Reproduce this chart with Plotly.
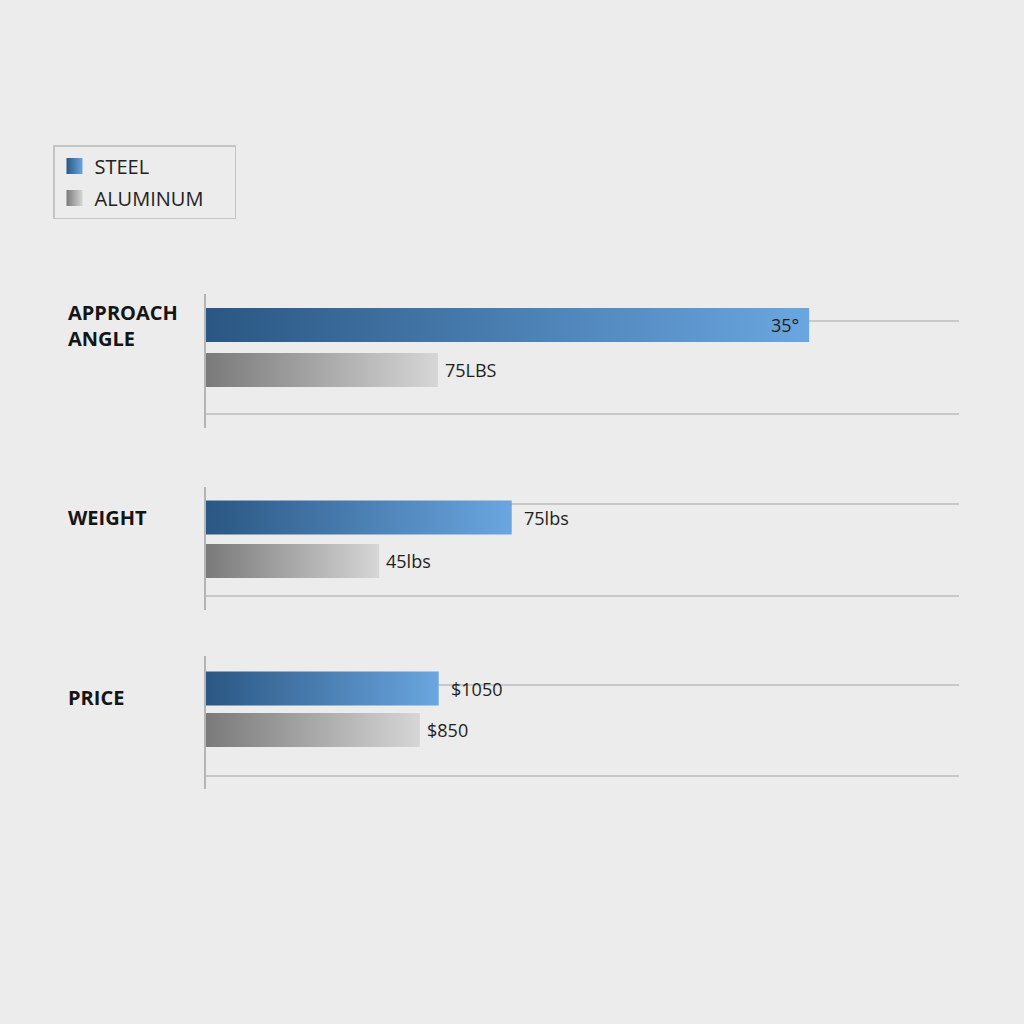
import plotly.graph_objects as go

# data (bar lengths on a common 0-100 scale)
groups = ["APPROACH<br>ANGLE", "WEIGHT", "PRICE"]
series = ["STEEL", "ALUMINUM"]
steel_len = [80.1, 40.6, 30.9]
alum_len = [30.8, 23.0, 28.4]
steel_labels = ["35°", "75lbs", "$1050"]
alum_labels = ["75LBS", "45lbs", "$850"]

W = H = 1024
FONT = "Open Sans"
BG = "#ececec"
GRID = "#c8c8c8"
AXIS = "#b4b4b4"

# colours: dark -> light for each series
ramps = {
    "STEEL": ("#2a5783", "#6aa6e0"),
    "ALUMINUM": ("#7a7a7a", "#d6d6d6"),
}

# pixel layout of each group block: top, bottom, steel centre, px per unit, grid lines
blocks = [
    dict(top=294, bottom=428, s=325, k=45, lines=(321, 414), label_shift=0),
    dict(top=487, bottom=610, s=517.5, k=43.5, lines=(504, 596), label_shift=0),
    dict(top=656, bottom=789, s=688.5, k=41.5, lines=(685, 776), label_shift=-9),
]
x0_px, x1_px = 206, 959


def px_to_y(p, b):
    return 1 - (p - b["s"]) / b["k"]


fig = go.Figure()
annotations = []
layout_axes = {}

for i, (grp, b) in enumerate(zip(groups, blocks)):
    sfx = "" if i == 0 else str(i + 1)
    xa, ya = "x" + sfx, "y" + sfx
    half = 17 / b["k"]
    for pos, name, vals, labels in [(1, "STEEL", steel_len, steel_labels),
                                    (0, "ALUMINUM", alum_len, alum_labels)]:
        v = vals[i]
        dark, light = ramps[name]
        fig.add_trace(go.Scatter(
            x=[0, v, v, 0, 0],
            y=[pos - half, pos - half, pos + half, pos + half, pos - half],
            mode="lines", fill="toself", line=dict(width=0),
            fillgradient=dict(type="horizontal",
                              colorscale=[[0, dark], [1, light]]),
            hoverinfo="skip", showlegend=False,
            xaxis=xa, yaxis=ya,
        ))
        inside = v > 70
        if inside:
            shift = -8
        else:
            shift = 10 if name == "STEEL" else 5
        annotations.append(dict(
            x=v, y=pos, xref=xa, yref=ya, text=labels[i], showarrow=False,
            xanchor="right" if inside else "left", xshift=shift,
            font=dict(family=FONT, size=18, color="#1e1e1e"),
        ))
    annotations.append(dict(
        x=66 / W, y=1, xref="paper", yref=ya, text=grp, showarrow=False,
        xanchor="left", align="left", yshift=b["label_shift"],
        font=dict(family=FONT, size=20, color="#151515", weight="bold"),
    ))

    layout_axes["xaxis" + sfx] = dict(
        domain=[x0_px / W, x1_px / W], range=[0, 100], visible=False,
        anchor=ya, fixedrange=True,
    )
    layout_axes["yaxis" + sfx] = dict(
        domain=[1 - b["bottom"] / H, 1 - b["top"] / H],
        range=[px_to_y(b["bottom"], b), px_to_y(b["top"], b)],
        anchor=xa, showline=True, linecolor=AXIS, linewidth=1.5,
        tickvals=[px_to_y(p, b) for p in b["lines"]],
        showticklabels=False, ticks="", showgrid=True,
        gridcolor=GRID, gridwidth=1.5, zeroline=False, fixedrange=True,
    )

# legend-only entries (trailing no-break spaces widen the legend box)
for name in series:
    dark, light = ramps[name]
    pad = "\u00a0" * (5 if name == "ALUMINUM" else 0)
    fig.add_trace(go.Scatter(
        x=[None], y=[None], mode="markers", name=name + pad, legendgroup=name,
        marker=dict(symbol="square", size=20, color=dark,
                    gradient=dict(type="horizontal", color=light)),
    ))

fig.update_layout(
    width=W, height=H,
    margin=dict(l=0, r=0, t=0, b=0),
    paper_bgcolor=BG, plot_bgcolor="rgba(0,0,0,0)",
    annotations=annotations,
    showlegend=True,
    legend=dict(
        x=53 / W, y=1 - 145 / H, xanchor="left", yanchor="top",
        bordercolor="#c4c4c4", borderwidth=1.5, bgcolor="rgba(0,0,0,0)",
        font=dict(family=FONT, size=20, color="#222222"),
        tracegroupgap=3,
    ),
    **layout_axes,
)

fig.write_html("out.html", config={"displayModeBar": False},
               post_script="document.body.style.margin='0';")
